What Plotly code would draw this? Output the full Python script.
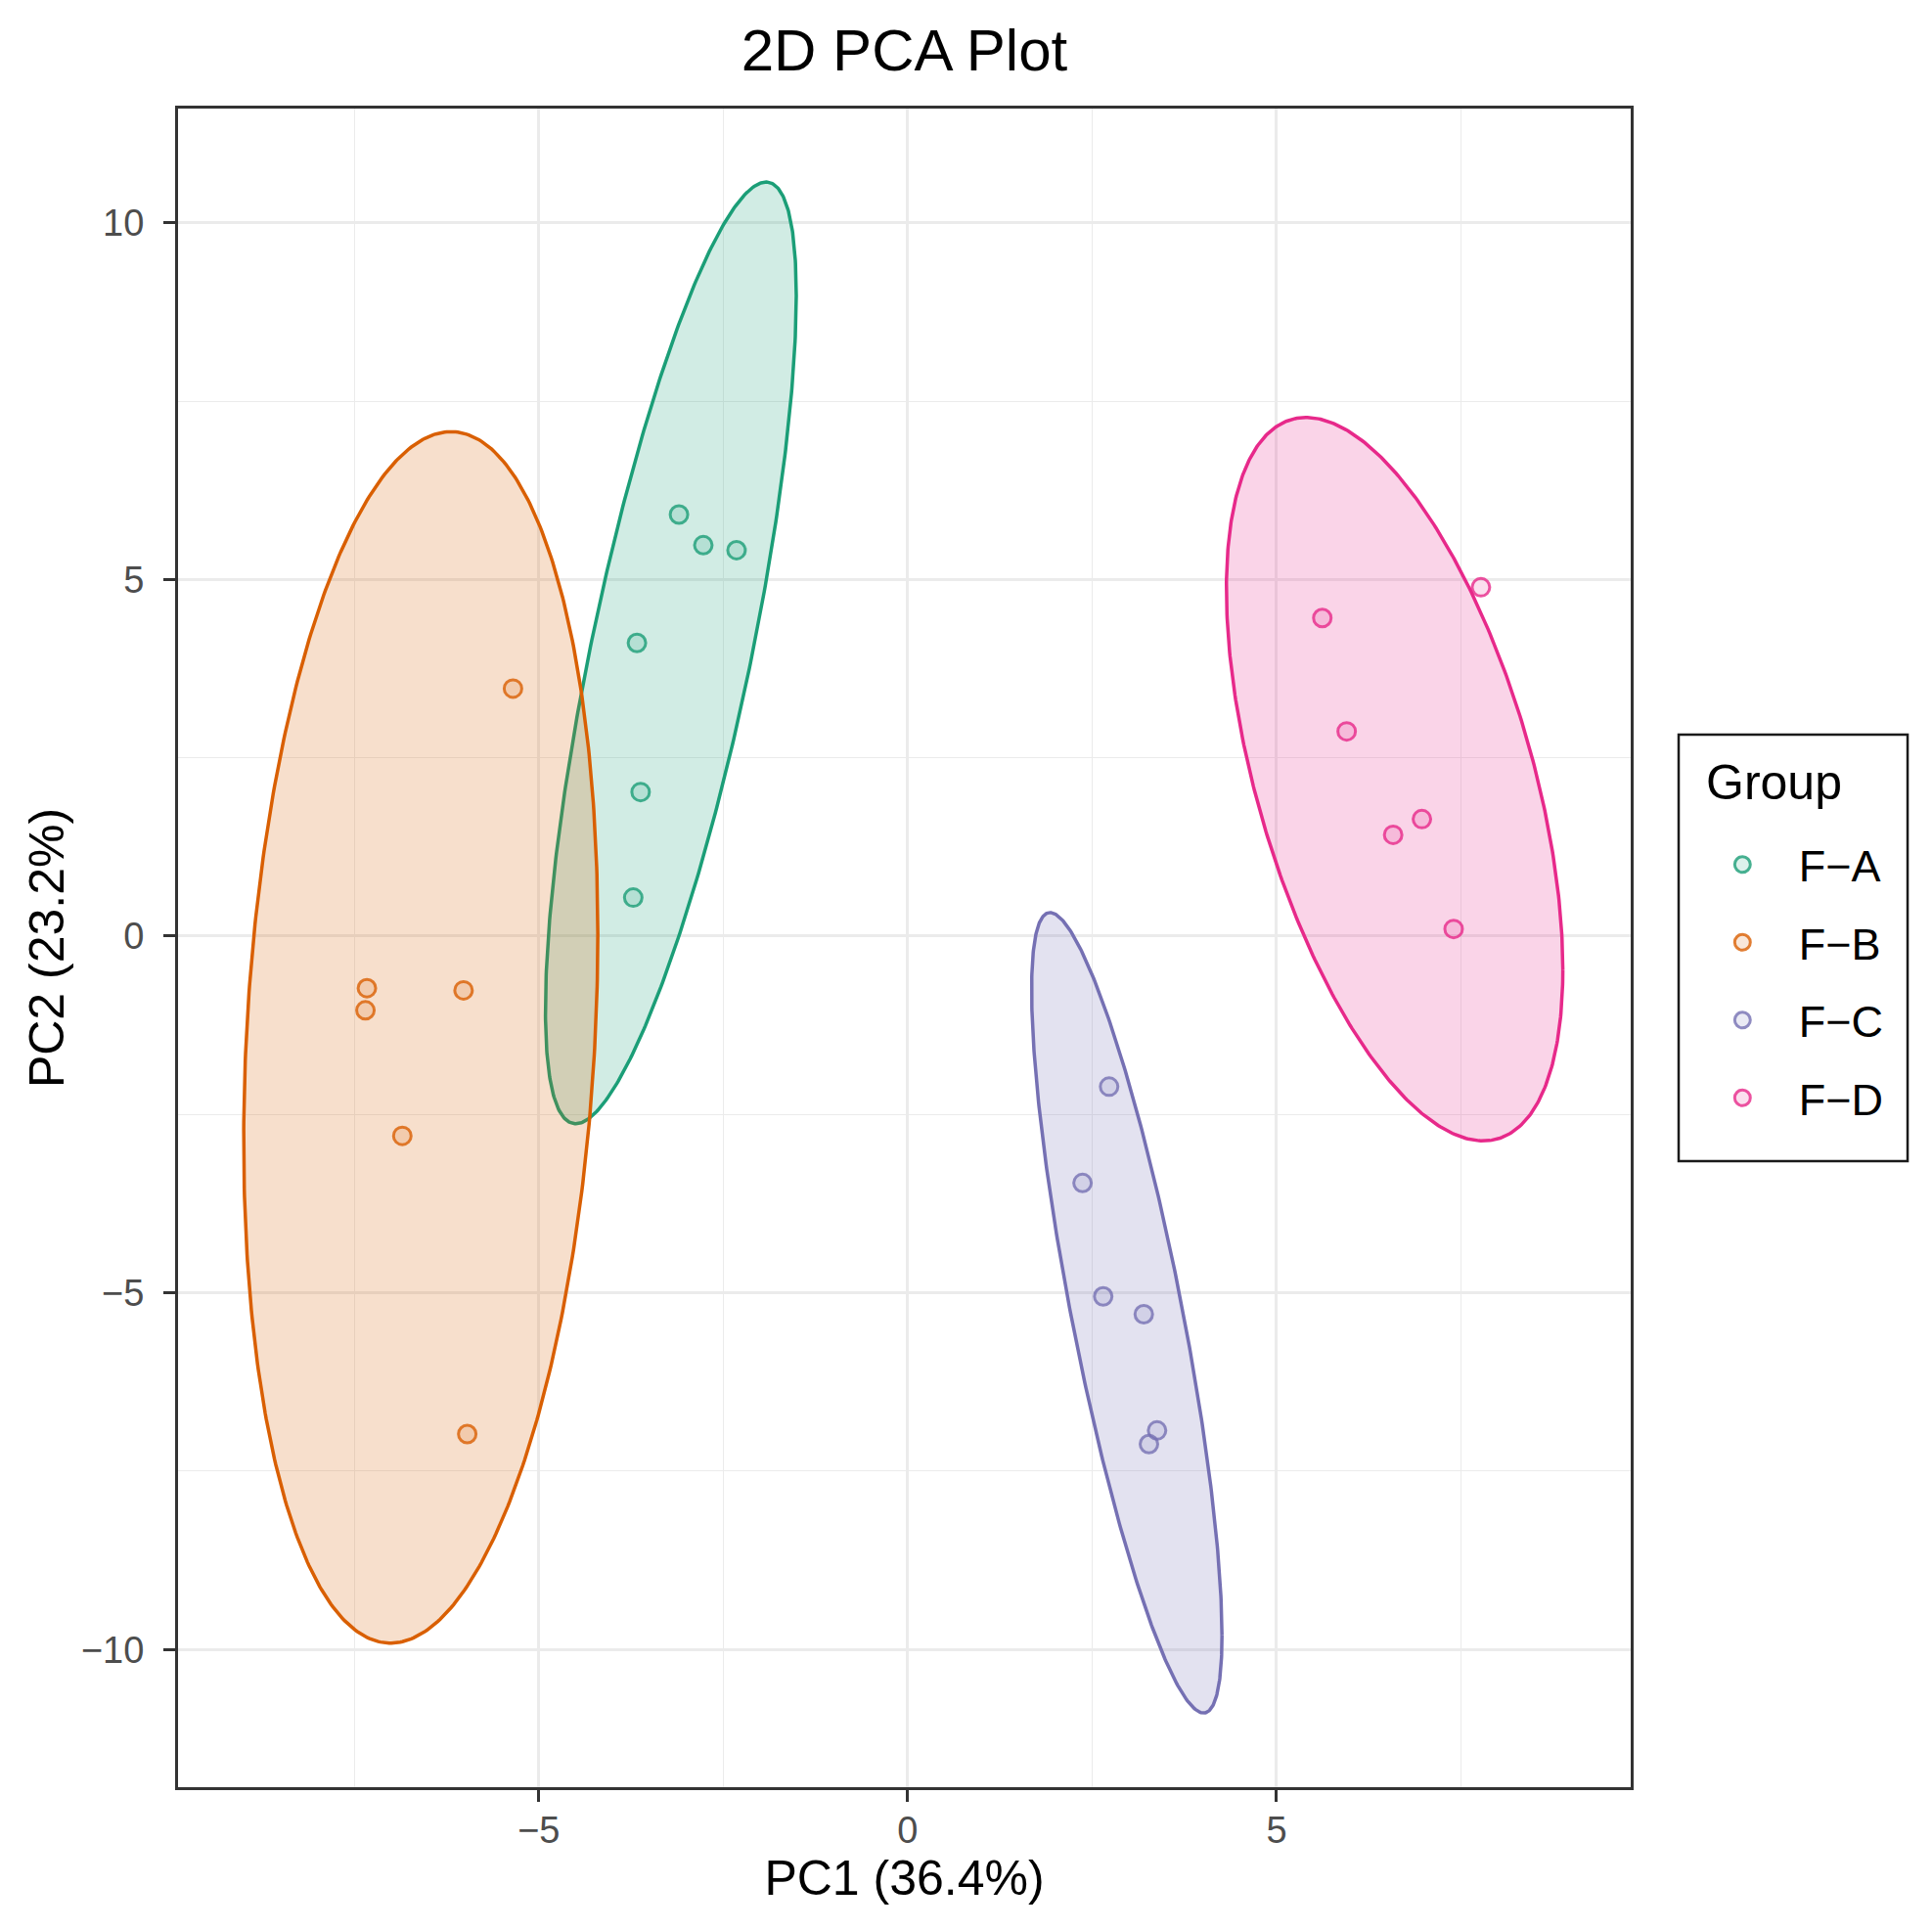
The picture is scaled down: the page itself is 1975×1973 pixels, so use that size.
import numpy as np
import plotly.graph_objects as go

groups = ["F-A", "F-B", "F-C", "F-D"]
labels = ["F\u2212A", "F\u2212B", "F\u2212C", "F\u2212D"]
colors = ["#1B9E77", "#D95F02", "#7570B3", "#E7298A"]

pc1 = {
    "F-A": [-3.10, -2.77, -2.32, -3.67, -3.62, -3.72],
    "F-B": [-5.35, -7.33, -7.35, -6.02, -6.85, -5.97],
    "F-C": [2.73, 2.37, 2.65, 3.20, 3.38, 3.27],
    "F-D": [7.77, 5.62, 5.95, 6.97, 6.58, 7.40],
}
pc2 = {
    "F-A": [5.91, 5.48, 5.41, 4.11, 2.02, 0.54],
    "F-B": [3.47, -0.73, -1.04, -0.76, -2.80, -6.98],
    "F-C": [-2.11, -3.46, -5.05, -5.30, -6.93, -7.12],
    "F-D": [4.89, 4.46, 2.87, 1.64, 1.42, 0.10],
}

# 95% ellipses: centre, half-width in x, half-height in y,
# and x offset of the topmost point from the centre
ell_cx = [-3.21, -6.60, 2.97, 6.60]
ell_cy = [3.97, -1.42, -5.28, 2.20]
ell_hx = [1.70, 2.40, 1.29, 2.28]
ell_hy = [6.60, 8.49, 5.61, 5.07]
ell_top_dx = [1.29, 0.41, -1.04, -1.20]


def rgba(hex_col, a):
    h = hex_col.lstrip("#")
    r, g, b = int(h[0:2], 16), int(h[2:4], 16), int(h[4:6], 16)
    return f"rgba({r},{g},{b},{a})"


def ellipse(cx, cy, hx, hy, tdx, n=500):
    s = np.array([[hx ** 2, tdx * hy], [tdx * hy, hy ** 2]])
    L = np.linalg.cholesky(s)
    t = np.linspace(0, 2 * np.pi, n)
    pts = L @ np.vstack([np.cos(t), np.sin(t)])
    return cx + pts[0], cy + pts[1]


fig = go.Figure()

for i, g in enumerate(groups):
    ex, ey = ellipse(ell_cx[i], ell_cy[i], ell_hx[i], ell_hy[i], ell_top_dx[i])
    fig.add_trace(go.Scatter(x=ex, y=ey, mode="lines", fill="toself",
                             fillcolor=rgba(colors[i], 0.2),
                             line=dict(color=colors[i], width=3.5),
                             hoverinfo="skip", showlegend=False))

for i, g in enumerate(groups):
    fig.add_trace(go.Scatter(x=pc1[g], y=pc2[g], mode="markers",
                             name="\u00a0\u00a0\u00a0" + labels[i],
                             legendgroup=g,
                             marker=dict(size=18, color=rgba(colors[i], 0.15),
                                         line=dict(color=rgba(colors[i], 0.8), width=3))))

font_fam = "Liberation Sans, Arial, sans-serif"

# plot area in page px: left 182, top 111, width 1485, height 1716 (page has 8px body margin)
fig.update_layout(
    width=1975, height=1973,
    paper_bgcolor="white", plot_bgcolor="white",
    margin=dict(l=174, r=316, t=103, b=154),
    font=dict(family=font_fam, color="black"),
    title=dict(text="2D PCA Plot", x=0.5, xref="paper", xanchor="center",
               y=1 - 43 / 1973, yref="container", yanchor="middle",
               font=dict(size=60, color="black")),
    legend=dict(font=dict(size=45),
                x=1.0635, xanchor="left", y=0.5705, yanchor="top",
                borderwidth=0, bgcolor="rgba(0,0,0,0)",
                tracegroupgap=18),
)

# legend frame and title
fig.add_shape(type="rect", xref="paper", yref="paper",
              x0=1.033, x1=1.1906, y0=0.373, y1=0.627,
              line=dict(color="#1a1a1a", width=2.5), fillcolor="rgba(0,0,0,0)")
fig.add_annotation(text="Group", xref="paper", yref="paper",
                   x=1.0505, y=0.5985, xanchor="left", yanchor="middle",
                   showarrow=False, font=dict(size=50, color="black"))

axis_common = dict(
    showline=True, linecolor="#333333", linewidth=3, mirror=True,
    ticks="outside", ticklen=12, tickwidth=3, tickcolor="#333333",
    tickfont=dict(size=38, color="#4D4D4D"),
    showgrid=True, gridcolor="#EBEBEB", gridwidth=2.5,
    zeroline=False,
)
minor_grid = dict(tickvals=[-7.5, -2.5, 2.5, 7.5], showgrid=True,
                  gridcolor="#EBEBEB", gridwidth=1.3, ticks="")

fig.update_xaxes(range=[-9.89, 9.80], tickvals=[-5, 0, 5], ticktext=["\u22125", "0", "5"],
                 minor=minor_grid, ticklabelstandoff=-4,
                 title=dict(text="PC1 (36.4%)", font=dict(size=50), standoff=12),
                 **axis_common)
fig.update_yaxes(range=[-11.93, 11.6], tickvals=[-10, -5, 0, 5, 10],
                 ticktext=["\u221210", "\u22125", "0", "5", "10"],
                 minor=minor_grid, ticklabelstandoff=12,
                 title=dict(text="PC2 (23.2%)", font=dict(size=50), standoff=2),
                 **axis_common)

fig.write_html("out.html")
